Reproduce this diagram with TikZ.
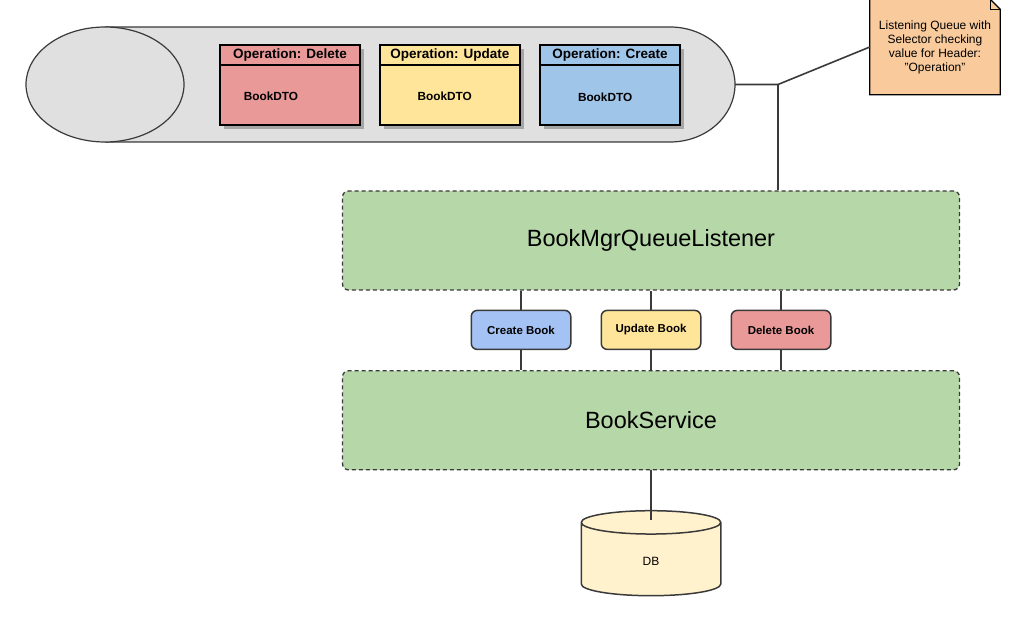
\documentclass[tikz,border=0pt]{standalone}
\usepackage{fontspec}
\setmainfont{Liberation Sans}
\usetikzlibrary{calc,positioning,shapes.geometric,shadows,backgrounds}

\definecolor{pipegray}{HTML}{E0E0E0}
\definecolor{linegray}{HTML}{3A3A3A}
\definecolor{msgred}{HTML}{EA9999}
\definecolor{msgyellow}{HTML}{FFE599}
\definecolor{msgblue}{HTML}{9FC5E8}
\definecolor{opblue}{HTML}{A4C2F4}
\definecolor{svcgreen}{HTML}{B6D7A8}
\definecolor{notefill}{HTML}{F9CB9C}
\definecolor{dbfill}{HTML}{FFF2CC}

\tikzstyle{conn}=[line width=1.6pt,draw=linegray]
\tikzstyle{msgbox}=[rectangle,draw=black,line width=1.8pt,minimum width=140pt,minimum height=80pt,
  drop shadow={shadow xshift=4pt,shadow yshift=-4pt,fill=black!35,opacity=1}]
\tikzstyle{msghead}=[rectangle,draw=black,line width=1.5pt,minimum width=140pt,minimum height=20pt,
  inner sep=0pt,font=\fontsize{13.5}{15}\selectfont\bfseries]
\tikzstyle{dto}=[inner sep=0.5mm,font=\fontsize{11.8}{13}\selectfont\bfseries]
\tikzstyle{svcbox}=[rectangle,rounded corners=6pt,fill=svcgreen,draw=linegray,line width=1.3pt,
  dash pattern=on 4pt off 3pt,minimum width=617pt,minimum height=99pt,font=\fontsize{23.5}{28}\selectfont]
\tikzstyle{opbox}=[rectangle,rounded corners=6pt,draw=linegray,line width=1.5pt,minimum width=99.5pt,
  minimum height=39pt,font=\fontsize{11.5}{13}\selectfont\bfseries]
\tikzstyle{notebox}=[align=center,minimum width=130pt,minimum height=95pt,font=\fontsize{12}{14}\selectfont]
\tikzstyle{dbnode}=[cylinder,shape border rotate=90,aspect=1,draw=linegray,line width=1.5pt,
  fill=dbfill,minimum width=139.5pt,minimum height=85pt,font=\fontsize{12}{14}\selectfont]

\begin{document}
\begin{tikzpicture}[x=1pt,y=-1pt]
\useasboundingbox (0,0) rectangle (1020,620);

\fill[pipegray] (105,27) -- (670,27) .. controls (705.9,27) and (735,52.7) .. (735,84.5)
  .. controls (735,116.3) and (705.9,142) .. (670,142) -- (105,142) -- cycle;
\draw[line width=1.2pt,draw=linegray] (105,27) -- (670,27) .. controls (705.9,27) and (735,52.7) .. (735,84.5)
  .. controls (735,116.3) and (705.9,142) .. (670,142) -- (105,142);
\draw[line width=1.2pt,draw=linegray,fill=pipegray] (105,84.5) ellipse [x radius=79,y radius=57.5];
\coordinate (qend) at (735,84.5);
\coordinate (jn) at (778,84.5);

\node[msgbox,fill=msgred] (del) at (290,85) {};
\node[msgbox,fill=msgyellow,right=18pt of del] (upd) {};
\node[msgbox,fill=msgblue,right=18.5pt of upd] (cre) {};
\node[msghead,fill=msgred,anchor=north] (delh) at (del.north) {Operation: Delete};
\node[msghead,fill=msgyellow,anchor=north] (updh) at (upd.north) {Operation: Update};
\node[msghead,fill=msgblue,anchor=north] (creh) at (cre.north) {Operation: Create};
\node[dto] (deldto) at ($(del)+(-19,11)$) {BookDTO};
\node[dto] (upddto) at ($(upd)+(-5,11)$) {BookDTO};
\node[dto] (credto) at ($(cre)+(-5,12)$) {BookDTO};

\node[notebox] (note) at (935,47) {Listening Queue with\\Selector checking\\value for Header:\\"Operation"};
\begin{scope}[on background layer]
\draw[line width=1.2pt,fill=notefill] (note.north west) -- ($(note.north east)+(-10,0)$)
  -- ($(note.north east)+(0,10)$) -- (note.south east) -- (note.south west) -- cycle;
\end{scope}
\draw[line width=1.2pt] ($(note.north east)+(-10,0)$) |- ($(note.north east)+(0,10)$);

\node[svcbox] (listener) at (651,240.5) {BookMgrQueueListener};
\node[opbox,fill=msgyellow,below=19pt of listener] (updbook) {Update Book};
\node[opbox,fill=opblue,left=29pt of updbook] (crebook) {Create Book};
\node[opbox,fill=msgred,right=29pt of updbook] (delbook) {Delete Book};
\node[svcbox,below=20pt of updbook] (service) {BookService};
\node[dbnode,below=39.5pt of service] (db) {DB};

\draw[conn] (qend) -- (jn) -- (note.west);
\draw[conn] (jn) -- (jn |- listener.north);
\draw[conn] (crebook.north) -- (crebook.north |- listener.south);
\draw[conn] (updbook.north) -- (updbook.north |- listener.south);
\draw[conn] (delbook.north) -- (delbook.north |- listener.south);
\draw[conn] (crebook.south) -- (crebook.south |- service.north);
\draw[conn] (updbook.south) -- (updbook.south |- service.north);
\draw[conn] (delbook.south) -- (delbook.south |- service.north);
\draw[conn] (service.south) -- ([yshift=-10pt]db.north);
\end{tikzpicture}
\end{document}
